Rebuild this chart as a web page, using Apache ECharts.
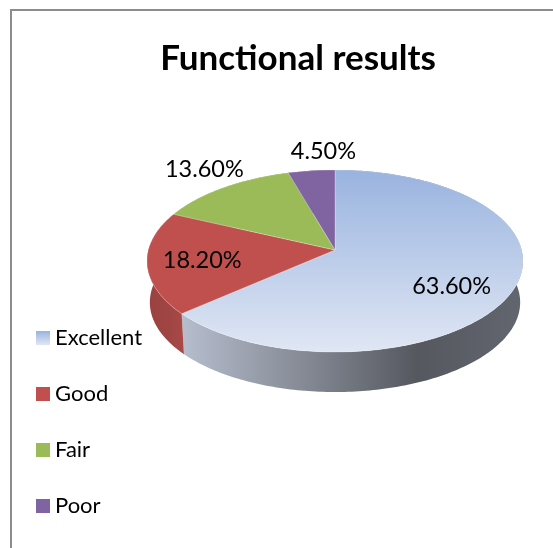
<!DOCTYPE html>
<html>
<head>
<meta charset="utf-8">
<style>html,body{margin:0;padding:0;background:#fff}#c{width:553px;height:548px}</style>
<script src="https://cdn.jsdelivr.net/npm/echarts@6/dist/echarts.min.js"></script>
</head>
<body>
<div id="c"></div>
<script>
const categories = ['Excellent', 'Good', 'Fair', 'Poor'];
const shares = [63.6, 18.2, 13.6, 4.5];
const shareLabels = ['63.60%', '18.20%', '13.60%', '4.50%'];

const FONT = 'Lato, "Open Sans", sans-serif';
const total = shares.reduce((a, b) => a + b, 0);

// Perspective model of the disc
const CX = 335, APEX_Y = 250, RX = 186.6, RY = 89.7, PERSP = 0.1209;
const DEPTH = 41.5, BOTTOM_SCALE = 0.985;

function project(theta, r, scale, drop) {
  const u = Math.sin(theta) * r, v = -Math.cos(theta) * r;
  const w = 1 - PERSP * v;
  return [CX + scale * RX * u / w, APEX_Y + drop + scale * RY * v / w];
}
function arc(a0, a1, scale, drop) {
  const n = Math.max(2, Math.ceil(Math.abs(a1 - a0) / (Math.PI / 180)));
  const pts = [];
  for (let i = 0; i <= n; i++) pts.push(project(a0 + (a1 - a0) * i / n, 1, scale, drop));
  return pts;
}
function vGrad(c0, c1) {
  return { type: 'linear', x: 0, y: 0, x2: 0, y2: 1, colorStops: [{ offset: 0, color: c0 }, { offset: 1, color: c1 }] };
}
function hGrad(stops) {
  return { type: 'linear', x: 0, y: 0, x2: 1, y2: 0,
    colorStops: stops.map(s => ({ offset: s[0], color: s[1] })) };
}

const topFills = [vGrad('#99b3df', '#e0e7f4'), '#c0504d', '#9bbb59', '#8064a2'];
const wallFills = [
  hGrad([[0, '#b6bdcd'], [0.35, '#868b96'], [0.69, '#55585f'], [1, '#62666f']]),
  hGrad([[0, '#9a4240'], [0.6, '#a04543'], [1, '#a84a47']]),
  '#7d9548', '#664f82'
];
// radial factor, then pixel nudge, for each value label
const labelPlace = [
  { r: 0.62, dx: 8, dy: 13 },
  { r: 0.71, dx: 0, dy: 1 },
  { r: 1.15, dx: -4, dy: -10 },
  { r: 1.2, dx: 16, dy: -5 }
];

function makeSeries(idx) {
  let before = 0;
  for (let i = 0; i < idx; i++) before += shares[i];
  return {
    type: 'custom',
    name: categories[idx],
    coordinateSystem: 'none',
    silent: true,
    animation: false,
    itemStyle: { color: topFills[idx] },
    data: [[shares[idx]]],
    renderItem: function (params, api) {
      const a0 = before / total * 2 * Math.PI;
      const a1 = (before + api.value(0)) / total * 2 * Math.PI;
      const topArc = arc(a0, a1, 1, 0);
      const lowArc = arc(a0, a1, BOTTOM_SCALE, DEPTH).reverse();
      const apex = project(0, 0, 1, 0);
      const mid = (a0 + a1) / 2;
      const p = labelPlace[idx];
      const lp = project(mid, p.r, 1, 0);
      return {
        type: 'group',
        children: [
          { type: 'polygon', z2: 1, shape: { points: topArc.concat(lowArc) },
            style: { fill: wallFills[idx] } },
          { type: 'polygon', z2: 2, shape: { points: [apex].concat(topArc) },
            style: { fill: topFills[idx], stroke: 'rgba(255,255,255,0.35)', lineWidth: 0.7 } },
          { type: 'text', z2: 3, x: lp[0] + p.dx, y: lp[1] + p.dy,
            style: { text: shareLabels[idx], fill: '#000', font: '23.5px ' + FONT, align: 'center', verticalAlign: 'middle' } }
        ]
      };
    }
  };
}

const chart = echarts.init(document.getElementById('c'), null, { renderer: 'canvas' });
chart.setOption({
  backgroundColor: '#fff',
  animation: false,
  title: {
    text: 'Functional results', left: 293, top: 36, textAlign: 'center',
    textStyle: { fontFamily: FONT, fontWeight: 'bold', fontSize: 35, color: '#000' }
  },
  legend: {
    orient: 'vertical', left: 36, top: 327, width: 200, height: 218, padding: 0,
    itemWidth: 14, itemHeight: 14, itemGap: 34,
    icon: 'rect', selectedMode: false, data: categories,
    textStyle: { fontFamily: FONT, fontSize: 22, lineHeight: 14, color: '#000' }
  },
  graphic: [{
    type: 'polyline', silent: true,
    shape: { points: [[11, 548], [11, 10], [553, 10]] },
    style: { stroke: '#8c8c8c', lineWidth: 2, fill: 'none' }
  }],
  series: categories.map((c, i) => makeSeries(i))
});
</script>
</body>
</html>
